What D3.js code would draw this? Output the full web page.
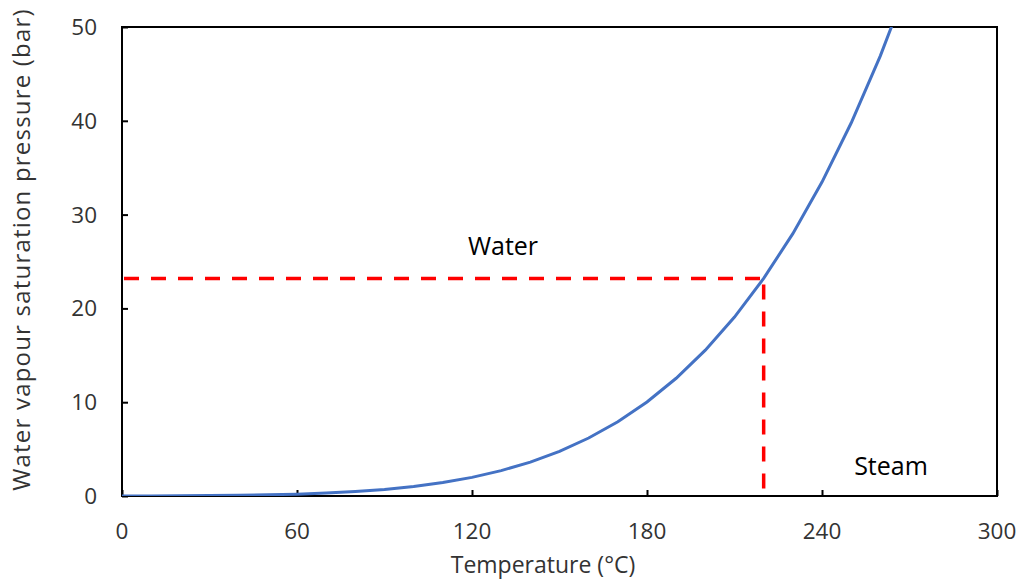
<!DOCTYPE html>
<meta charset="utf-8">
<script src="https://cdn.jsdelivr.net/npm/d3@7"></script>
<style>
body { margin: 0; background: #fff; }
text { font-family: "Open Sans", sans-serif; fill: #333; }
</style>
<body>
<script>

// saturation pressure of water (bar) at 10 degree steps
var temps = [0, 10, 20, 30, 40, 50, 60, 70, 80, 90, 100, 110, 120, 130, 140,
             150, 160, 170, 180, 190, 200, 210, 220, 230, 240, 250, 260, 270];
var pressures = [0.0061, 0.0123, 0.0234, 0.0425, 0.0738, 0.1235, 0.1995, 0.312,
                 0.4741, 0.7018, 1.0142, 1.4338, 1.9867, 2.7028, 3.6154, 4.7616,
                 6.1823, 7.9219, 10.028, 12.552, 15.549, 19.077, 23.196, 27.971,
                 33.469, 39.762, 46.923, 55.03];
var xTicks = [0, 60, 120, 180, 240, 300];
var yTicks = [0, 10, 20, 30, 40, 50];
var markT = 220, markP = 23.2;

var width = 1019, height = 579;
var margin = {left: 122, right: 22, top: 27, bottom: 83};

var svg = d3.select("body").append("svg")
    .attr("width", width)
    .attr("height", height);

var x = d3.scaleLinear().domain([0, 300]).range([margin.left, width - margin.right]);
var y = d3.scaleLinear().domain([0, 50]).range([height - margin.bottom, margin.top]);

var data = temps.map(function(t, i) { return {t: t, p: pressures[i]}; });

svg.append("clipPath").attr("id", "plot")
  .append("rect")
    .attr("x", x(0)).attr("y", y(50))
    .attr("width", x(300) - x(0)).attr("height", y(0) - y(50));

// axes, ticks pointing inward
var xAxis = svg.append("g")
    .attr("transform", "translate(0," + y(0) + ")")
    .call(d3.axisTop(x).tickValues(xTicks).tickSize(6).tickFormat(""));
var yAxis = svg.append("g")
    .attr("transform", "translate(" + x(0) + ",0)")
    .call(d3.axisRight(y).tickValues(yTicks).tickSize(6).tickFormat(""));
svg.selectAll(".domain").remove();
svg.selectAll(".tick line").attr("stroke", "#000").attr("stroke-width", 2);

svg.append("rect")
    .attr("x", x(0)).attr("y", y(50))
    .attr("width", x(300) - x(0)).attr("height", y(0) - y(50))
    .attr("fill", "none").attr("stroke", "#000").attr("stroke-width", 2);

svg.selectAll(".xlab").data(xTicks).enter().append("text")
    .attr("x", function(d) { return x(d); })
    .attr("y", y(0) + 43)
    .attr("text-anchor", "middle")
    .attr("font-size", "22.5px")
    .text(function(d) { return d; });

svg.selectAll(".ylab").data(yTicks).enter().append("text")
    .attr("x", x(0) - 25)
    .attr("y", function(d) { return y(d) + 8; })
    .attr("text-anchor", "end")
    .attr("font-size", "22.5px")
    .text(function(d) { return d; });

svg.append("text")
    .attr("x", 543)
    .attr("y", 573)
    .attr("text-anchor", "middle")
    .attr("font-size", "23px")
    .text("Temperature (°C)");

svg.append("text")
    .attr("transform", "translate(30,249.5) rotate(-90)")
    .attr("text-anchor", "middle")
    .attr("font-size", "24px")
    .attr("letter-spacing", "1.2px")
    .text("Water vapour saturation pressure (bar)");

// dashed guide lines
var red = svg.append("g").attr("stroke", "#ff0000").attr("stroke-width", 3.5)
    .attr("stroke-dasharray", "15,12").attr("fill", "none");
red.append("line")
    .attr("x1", x(0) + 2).attr("x2", x(markT))
    .attr("y1", y(markP)).attr("y2", y(markP));
red.append("line")
    .attr("x1", x(markT)).attr("x2", x(markT))
    .attr("y1", y(markP) + 6).attr("y2", y(0));

var line = d3.line()
    .x(function(d) { return x(d.t); })
    .y(function(d) { return y(d.p); });

svg.append("path")
    .datum(data)
    .attr("clip-path", "url(#plot)")
    .attr("d", line)
    .attr("fill", "none")
    .attr("stroke", "#4472c4")
    .attr("stroke-width", 3);

svg.append("text")
    .attr("x", 503).attr("y", 255)
    .attr("text-anchor", "middle")
    .attr("font-size", "25px")
    .style("fill", "#000")
    .text("Water");

svg.append("text")
    .attr("x", 891).attr("y", 475)
    .attr("text-anchor", "middle")
    .attr("font-size", "25px")
    .style("fill", "#000")
    .text("Steam");

</script>
</body>
